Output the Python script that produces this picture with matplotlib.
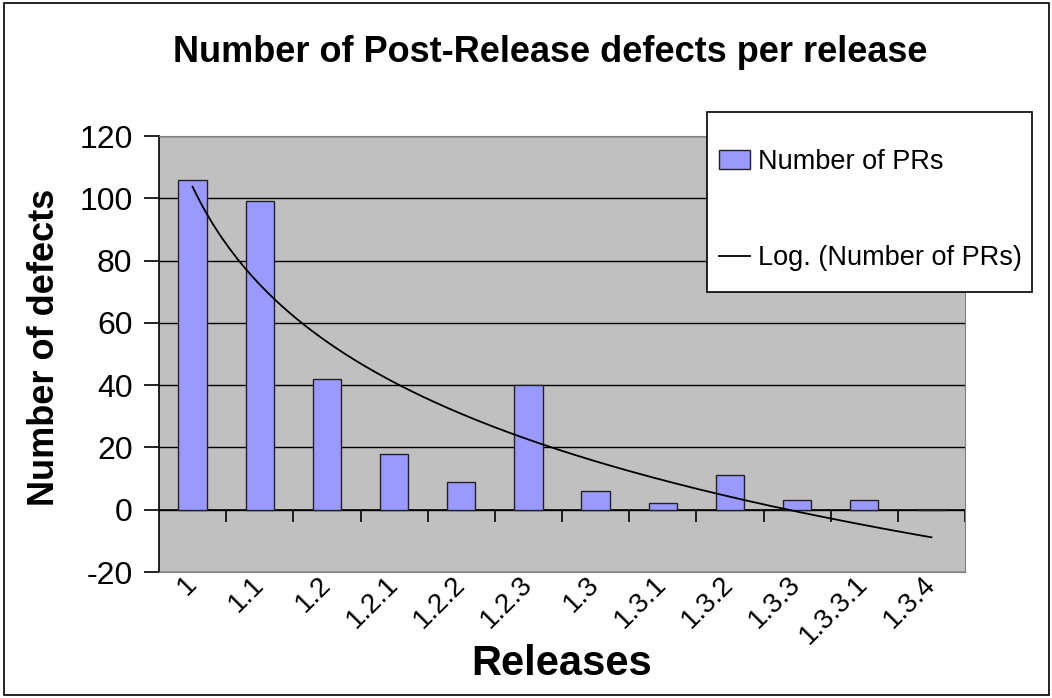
import numpy as np
import matplotlib
matplotlib.use("Agg")
import matplotlib.pyplot as plt
import matplotlib.patches as patches
from matplotlib.lines import Line2D

plt.rcParams['font.family'] = ['Liberation Sans', 'DejaVu Sans']
plt.rcParams['axes.unicode_minus'] = False

releases = ["1", "1.1", "1.2", "1.2.1", "1.2.2", "1.2.3",
            "1.3", "1.3.1", "1.3.2", "1.3.3", "1.3.3.1", "1.3.4"]
num_prs = [106, 99, 42, 18, 9, 40, 6, 2, 11, 3, 3, 0]

n = len(releases)
x = np.arange(n)

# logarithmic trendline y = a*ln(k) + b, k = 1..n
a, b = np.polyfit(np.log(x + 1), num_prs, 1)
xs = np.linspace(0, n - 1, 200)
trend = a * np.log(xs + 1) + b

W, H = 1052, 698
fig = plt.figure(figsize=(W / 100, H / 100), dpi=100)
fig.patch.set_facecolor('white')

# chart border
fig.add_artist(patches.Rectangle((4 / W, 3 / H), (W - 7) / W, (H - 6) / H,
                                 transform=fig.transFigure, fill=False,
                                 edgecolor='black', lw=1.2))

ax = fig.add_axes([159 / W, 1 - 572 / H, (965 - 159) / W, (572 - 136) / H])
ax.set_facecolor('#C0C0C0')

ax.bar(x, num_prs, width=0.42, color='#9999FF', edgecolor='#222222', lw=1,
       zorder=2)
ax.plot(xs, trend, color='black', lw=1.3, zorder=3)

ax.set_xlim(-0.5, n - 0.5)
ax.set_ylim(-20, 120)
ax.set_yticks(range(-20, 121, 20))
ax.set_axisbelow(True)
ax.yaxis.grid(True, color='black', lw=1)

# category axis sits at y = 0, ticks between categories
ax.axhline(0, color='black', lw=1.2, zorder=1.5)
tick_len = 12 * 140 / 436
ax.vlines(np.arange(0.5, n), -tick_len, 0, color='black', lw=1.2, zorder=1.5)

for s in ['top', 'right', 'bottom']:
    ax.spines[s].set_color('#808080')
ax.spines['left'].set_color('black')
ax.spines['left'].set_linewidth(1.2)

ax.tick_params(axis='y', direction='out', length=11, width=1.2, pad=8,
               labelsize=23)
ax.set_xticks(x)
ax.set_xticklabels(releases, rotation=45, ha='right', va='center',
                   rotation_mode='anchor', fontsize=20)
ax.tick_params(axis='x', length=0, pad=6)

ax.set_ylabel('Number of defects', fontsize=26, fontweight='bold')
ax.set_xlabel('Releases', fontsize=30, fontweight='bold')
ax.xaxis.set_label_coords(0.5, -(644 - 572) / 436)
ax.yaxis.set_label_coords(-(159 - 62) / 806, 0.5 + 7 / 436)

fig.text(550 / W, 1 - 52 / H, 'Number of Post-Release defects per release',
         ha='center', va='center', fontsize=26, fontweight='bold')

# legend box
box = patches.Rectangle((707 / W, 1 - 292 / H), (1032 - 707) / W, 180 / H,
                        transform=fig.transFigure, facecolor='white',
                        edgecolor='black', lw=1.2, zorder=5)
fig.add_artist(box)

handles = [patches.Patch(facecolor='#9999FF', edgecolor='#222222', lw=1),
           Line2D([0], [0], color='black', lw=1.3)]
leg = fig.legend(handles, ['Number of PRs', 'Log. (Number of PRs)'],
                 loc='upper left', bbox_to_anchor=(719 / W, 1 - 149 / H),
                 bbox_transform=fig.transFigure, fontsize=19.5,
                 frameon=False, borderpad=0, labelspacing=2.6,
                 handlelength=1.15, handletextpad=0.28, borderaxespad=0)
leg.set_zorder(6)

fig.savefig('out.png', dpi=100)
